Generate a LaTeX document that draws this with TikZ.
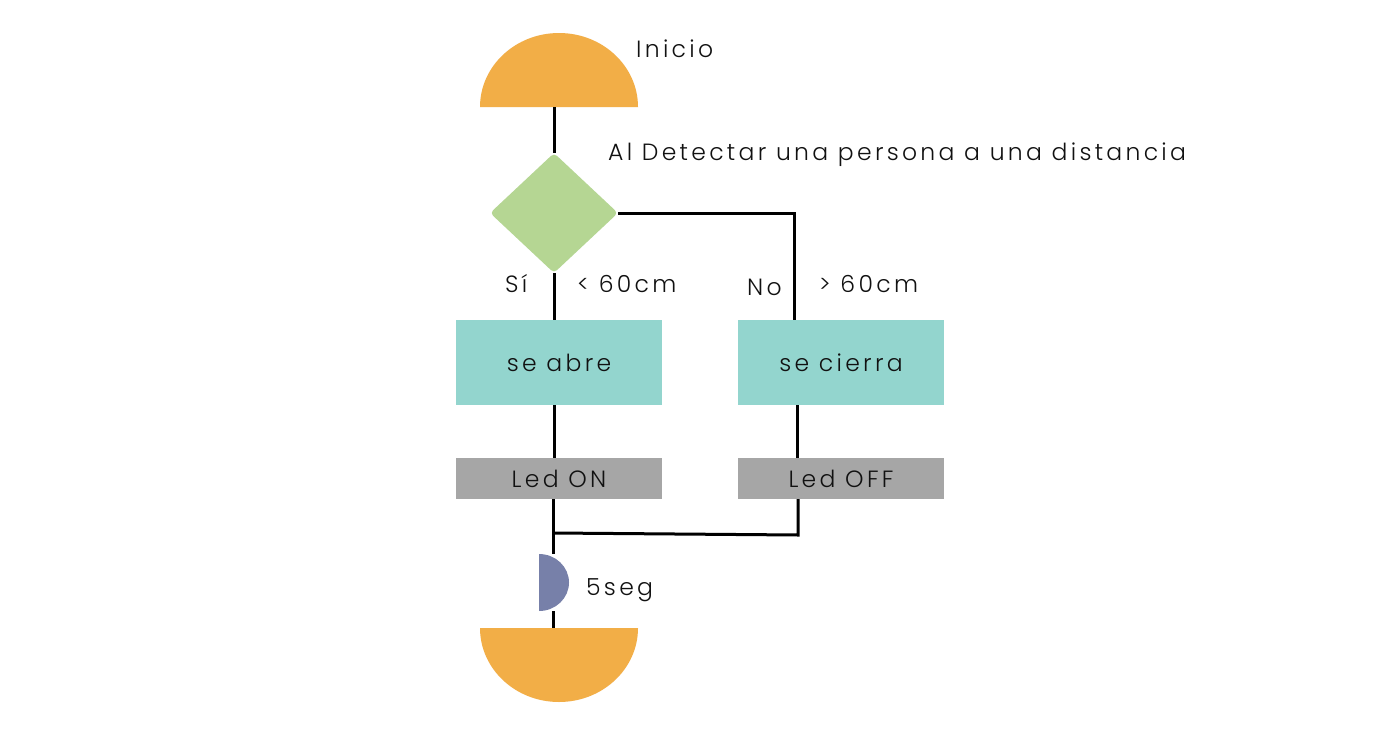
\documentclass[tikz,border=0pt]{standalone}
\usepackage{fontspec}
\setmainfont{Poppins}[UprightFont={* Light},LetterSpace=14]
\usetikzlibrary{shapes.geometric}
\definecolor{cOrange}{HTML}{F2AE47}
\definecolor{cGreen}{HTML}{B5D693}
\definecolor{cTeal}{HTML}{93D5CE}
\definecolor{cGray}{HTML}{A6A6A6}
\definecolor{cBlue}{HTML}{7780A9}
\definecolor{cText}{HTML}{111111}
\tikzset{
  conn/.style={draw=black, line width=3pt},
  procbox/.style={rectangle, fill=cTeal, minimum width=206pt, minimum height=85pt, inner sep=0pt, text=cText, font=\fontsize{23.5}{27}\selectfont},
  ledbox/.style={rectangle, fill=cGray, minimum width=206pt, minimum height=41pt, inner sep=0pt, text=cText, font=\fontsize{23.5}{27}\selectfont},
  lbl/.style={text=cText, font=\fontsize{23.5}{27}\selectfont, inner sep=0pt},
  decision/.style={diamond, fill=cGreen, minimum width=128pt, minimum height=120pt, aspect=1.07, inner sep=0pt, rounded corners=4pt}
}
\begin{document}
\begin{tikzpicture}[x=1pt,y=-1pt]
\useasboundingbox (0,0) rectangle (1400,736);
\fill[white] (0,0) rectangle (1400,736);
% start terminator
\fill[cOrange] (480,107) arc[start angle=180,end angle=360,x radius=79,y radius=74] -- cycle;
\coordinate (startb) at (554,107);
% decision
\node[decision] (dec) at (554,213) {};
% boxes
\node[procbox] (abre) at (559,362.5) {se abre};
\node[procbox] (cierra) at (841,362.5) {se cierra};
\node[ledbox] (ledon) at (559,478.5) {Led ON};
\node[ledbox] (ledoff) at (841,478.5) {Led OFF};
% delay
\fill[cBlue] (539,554) arc[start angle=-90,end angle=90,x radius=30,y radius=28.5] -- cycle;
\coordinate (delayt) at (553,554);
\coordinate (delayb) at (553,611);
% end terminator
\fill[cOrange] (638,628) arc[start angle=0,end angle=180,x radius=79,y radius=74] -- cycle;
\coordinate (endt) at (553,628);
% helper coordinates
\coordinate (noturn) at (794,213);
\coordinate (notop) at (794,320);
\coordinate (cierrab) at (797,405);
\coordinate (ledofft) at (797,458);
\coordinate (ledoffb) at (798,499);
\coordinate (joinr) at (798,535);
\coordinate (joinl) at (553,533);
\coordinate (abreb) at (554,405);
\coordinate (ledont) at (554,458);
\coordinate (ledonb) at (553,499);
% connectors
\draw[conn] (startb) -- (dec.north);
\draw[conn] (dec.south) -- (dec.south |- abre.north);
\draw[conn] (dec.east) -- (noturn) -- (notop);
\draw[conn] (abreb) -- (ledont);
\draw[conn] (cierrab) -- (ledofft);
\draw[conn] (ledonb) -- (delayt);
\draw[conn] (ledoffb) -- (joinr) -- (joinl);
\draw[conn] (delayb) -- (endt);
% labels
\node[lbl, anchor=west] (tInicio) at (636,49) {Inicio};
\node[lbl, anchor=west] (tDet) at (608,155) {Al Detectar una persona a una distancia};
\node[lbl, anchor=west] (tSi) at (505,284) {Sí};
\node[lbl, anchor=west] (tMenor) at (577,284) {< 60cm};
\node[lbl, anchor=west] (tNo) at (747,287) {No};
\node[lbl, anchor=west] (tMayor) at (819,284) {> 60cm};
\node[lbl, anchor=west] (tSeg) at (586,590) {5seg};
\end{tikzpicture}
\end{document}
